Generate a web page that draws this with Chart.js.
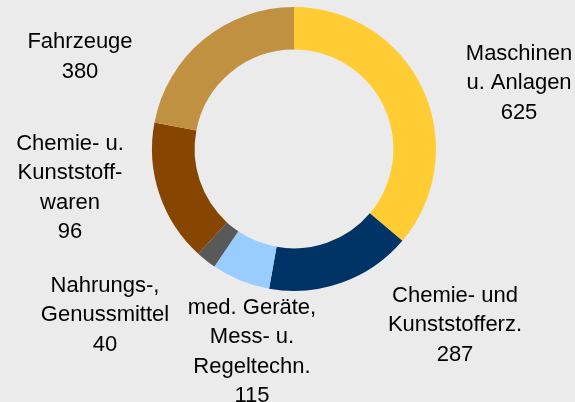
<!DOCTYPE html>
<html>
<head>
<meta charset="utf-8">
<script src="https://cdn.jsdelivr.net/npm/chart.js@4"></script>
<style>
  html, body { margin: 0; padding: 0; background: #EBEBEB; }
  #wrap { width: 575px; height: 402px; }
</style>
</head>
<body>
<div id="wrap"><canvas id="exportChart"></canvas></div>
<script>
// Branch names (line breaks as in the picture)
const categories = [
  ['Maschinen', 'u. Anlagen'],
  ['Chemie- und', 'Kunststofferz.'],
  ['med. Geräte,', 'Mess- u.', 'Regeltechn.'],
  ['Nahrungs-,', 'Genussmittel'],
  ['Chemie- u.', 'Kunststoff-', 'waren'],
  ['Fahrzeuge']
];

// Values printed in the labels
const labelValues = [625, 287, 115, 40, 96, 380];

// Slice sizes as drawn (the "Kunststoffwaren" slice is drawn much larger than its label)
const sliceValues = [625, 287, 115, 40, 280, 380];

const sliceColors = ['#FFCC33', '#003366', '#99CCFF', '#595959', '#864500', '#C09140'];

// label block centres, relative to the doughnut centre (px)
const labelOffsets = [
  [225, -66], [161, 176], [-42, 203], [-189, 166], [-224, 39], [-214, -92]
];

const outsideLabels = {
  id: 'outsideLabels',
  afterDraw(chart) {
    const ctx = chart.ctx;
    const arc = chart.getDatasetMeta(0).data[0];
    const cx = arc.x, cy = arc.y;
    const lineH = 29.5;
    ctx.save();
    ctx.font = '22px "Liberation Sans", Arial, sans-serif';
    ctx.fillStyle = '#000';
    ctx.textAlign = 'center';
    ctx.textBaseline = 'middle';
    categories.forEach((lines, i) => {
      const all = lines.concat([String(labelValues[i])]);
      const x = cx + labelOffsets[i][0];
      const y0 = cy + labelOffsets[i][1] - (all.length - 1) * lineH / 2;
      all.forEach((t, j) => ctx.fillText(t, x, y0 + j * lineH));
    });
    ctx.restore();
  }
};

new Chart(document.getElementById('exportChart'), {
  type: 'doughnut',
  data: {
    labels: categories.map(c => c.join(' ')),
    datasets: [{
      data: sliceValues,
      backgroundColor: sliceColors,
      borderWidth: 0,
      hoverOffset: 0
    }]
  },
  options: {
    responsive: true,
    maintainAspectRatio: false,
    animation: false,
    cutout: '70%',
    layout: { padding: { top: 7, bottom: 111, left: 152, right: 139 } },
    plugins: {
      legend: { display: false },
      tooltip: { enabled: false }
    }
  },
  plugins: [outsideLabels]
});
</script>
</body>
</html>
